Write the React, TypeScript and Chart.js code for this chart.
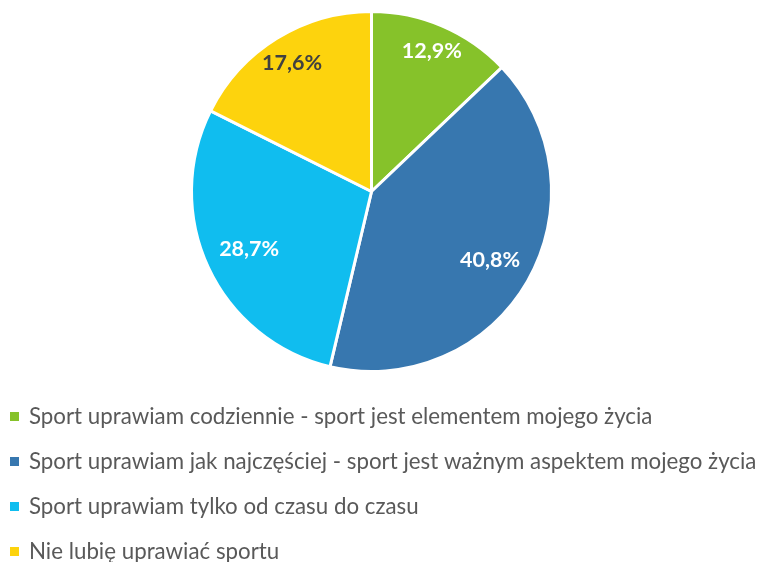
import React, { useEffect, useRef } from "react";
import { Chart, registerables } from "chart.js";
Chart.register(...registerables);

const categories = [
  "Sport uprawiam codziennie - sport jest elementem mojego życia",
  "Sport uprawiam jak najczęściej - sport jest ważnym aspektem mojego życia",
  "Sport uprawiam tylko od czasu do czasu",
  "Nie lubię uprawiać sportu",
];
const values = [12.9, 40.8, 28.7, 17.6];
const colors = ["#86C22A", "#3777AF", "#10BDEF", "#FDD30D"];
const labelColors = ["#FFFFFF", "#FFFFFF", "#FFFFFF", "#404040"];
const labelRadius = [0.85, 0.76, 0.75, 0.84];

const FONT = "Lato, 'Open Sans', sans-serif";

const labelsPlugin = {
  id: "sliceLabels",
  afterDatasetsDraw(chart: any) {
    const ctx = chart.ctx;
    const meta = chart.getDatasetMeta(0);
    ctx.save();
    ctx.font = `bold 21.5px ${FONT}`;
    ctx.textAlign = "center";
    ctx.textBaseline = "middle";
    meta.data.forEach((arc: any, i: number) => {
      const { x, y, startAngle, endAngle, outerRadius } = arc.getProps(
        ["x", "y", "startAngle", "endAngle", "outerRadius"],
        true
      );
      const mid = (startAngle + endAngle) / 2;
      const r = outerRadius * labelRadius[i];
      ctx.fillStyle = labelColors[i];
      const txt = values[i].toFixed(1).replace(".", ",") + "%";
      ctx.fillText(txt, x + Math.cos(mid) * r, y + Math.sin(mid) * r);
    });
    ctx.restore();
  },
};

const legendPlugin = {
  id: "listLegend",
  afterDraw(chart: any) {
    const ctx = chart.ctx;
    const labels = chart.data.labels as string[];
    const bg = chart.data.datasets[0].backgroundColor as string[];
    ctx.save();
    ctx.font = `22.3px ${FONT}`;
    ctx.textBaseline = "middle";
    ctx.textAlign = "left";
    labels.forEach((lab, i) => {
      const cy = 416 + i * 45;
      ctx.fillStyle = bg[i];
      ctx.fillRect(10, cy - 4, 9, 9);
      ctx.fillStyle = "#595959";
      ctx.fillText(lab, 29, cy + 1);
    });
    ctx.restore();
  },
};

export default function App() {
  const ref = useRef<HTMLCanvasElement | null>(null);
  useEffect(() => {
    if (!ref.current) return;
    const chart = new Chart(ref.current, {
      type: "pie",
      data: {
        labels: categories,
        datasets: [
          {
            data: values,
            backgroundColor: colors,
            borderColor: "#FFFFFF",
            borderWidth: 3,
          },
        ],
      },
      options: {
        responsive: false,
        animation: false,
        layout: { padding: { top: 10, bottom: 189, left: 0, right: 14 } },
        plugins: {
          legend: { display: false },
          tooltip: { enabled: false },
        },
      },
      plugins: [labelsPlugin, legendPlugin],
    });
    return () => chart.destroy();
  }, []);
  return (
    <div style={{ position: "absolute", left: 0, top: 0, width: 757, height: 562, background: "#fff" }}>
      <canvas ref={ref} width={757} height={562} />
    </div>
  );
}
